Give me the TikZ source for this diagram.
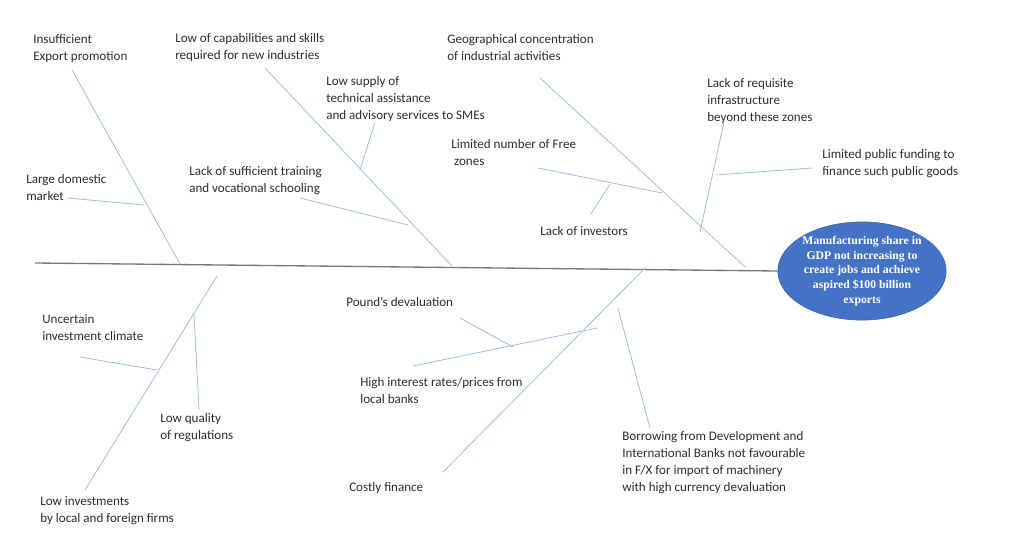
\documentclass[tikz,border=0pt]{standalone}
\usepackage{fontspec}
\setmainfont{Carlito}
\newfontfamily\headfont{Liberation Serif}
\usetikzlibrary{shapes.geometric}
\definecolor{bonecol}{RGB}{165,185,225}
\definecolor{spinecol}{RGB}{120,120,120}
\definecolor{headblue}{RGB}{68,114,196}
\definecolor{txtcol}{RGB}{45,45,45}
\tikzset{
  cause/.style={anchor=west, align=left, inner sep=0pt, text=txtcol,
    font=\fontsize{9.8}{12.75}\selectfont},
  bone/.style={draw=bonecol, line width=0.6pt},
  spine/.style={draw=spinecol, line width=1pt}
}
\begin{document}
\begin{tikzpicture}[x=0.75pt, y=-0.75pt]
        \useasboundingbox (0,0) rectangle (1024,560);

        % Head
        \node[ellipse, fill=headblue, draw=headblue!85!black, minimum width=124pt,
          minimum height=66pt, inner sep=0pt, text=white, align=center,
          font=\headfont\bfseries\fontsize{8.8}{11}\selectfont] (head) at (862,271)
          {Manufacturing share in\\GDP not increasing to\\create jobs and achieve\\aspired \$100 billion\\exports};
        \coordinate (tail) at (35,263);
        \draw[spine] (tail) -- (head.west);

        % Upper causes
        \node[cause] (export) at (33,49) {Insufficient\\Export promotion};
        \node[cause] (market) at (26,188) {Large domestic\\market};
        \node[cause] (skills) at (175,48) {Low of capabilities and skills\\required for new industries};
        \node[cause] (supply) at (326,99) {Low supply of\\technical assistance\\and advisory services to SMEs};
        \node[cause] (training) at (189,181) {Lack of sufficient training\\and vocational schooling};
        \node[cause] (geo) at (447,48) {Geographical concentration\\of industrial activities};
        \node[cause] (free) at (451,153) {Limited number of Free\\\ zones};
        \node[cause] (investors) at (540,231) {Lack of investors};
        \node[cause] (infra) at (707,101) {Lack of requisite\\infrastructure\\beyond these zones};
        \node[cause] (funding) at (822,164) {Limited public funding to\\finance such public goods};

        \coordinate (e1) at (72,70);   \coordinate (e2) at (180,264);
        \coordinate (m1) at (67,198);  \coordinate (m2) at (144,205);
        \coordinate (s1) at (265,68);  \coordinate (s2) at (452,266);
        \coordinate (t1) at (375,122); \coordinate (t2) at (360,170);
        \coordinate (v1) at (300,198); \coordinate (v2) at (408,225);
        \coordinate (g1) at (540,78);  \coordinate (g2) at (745,267);
        \coordinate (f1) at (538,168); \coordinate (f2) at (662,193);
        \coordinate (i1) at (610,184); \coordinate (i2) at (591,214);
        \coordinate (r1) at (724,122); \coordinate (r2) at (700,232);
        \coordinate (p1) at (812,168); \coordinate (p2) at (716,175);
        \foreach \a/\b in {e1/e2, m1/m2, s1/s2, t1/t2, v1/v2, g1/g2, f1/f2, i1/i2, r1/r2, p1/p2}
          \draw[bone] (\a) -- (\b);

        % Lower causes
        \node[cause] (climate) at (42,328) {Uncertain\\investment climate};
        \node[cause] (regul) at (160,428) {Low quality\\of regulations};
        \node[cause] (invest) at (40,511) {Low investments\\by local and foreign firms};
        \node[cause] (pound) at (346,302) {Pound's devaluation};
        \node[cause] (rates) at (360,391) {High interest rates/prices from\\local banks};
        \node[cause] (costly) at (349,488) {Costly finance};
        \node[cause] (borrow) at (622,463) {Borrowing from Development and\\International Banks not favourable\\in F/X for import of machinery\\with high currency devaluation};

        \coordinate (l1) at (217,276); \coordinate (l2) at (85,490);
        \coordinate (u1) at (80,357);  \coordinate (u2) at (157,370);
        \coordinate (q1) at (194,314); \coordinate (q2) at (199,410);
        \coordinate (c1) at (645,268); \coordinate (c2) at (443,472);
        \coordinate (h1) at (597,328); \coordinate (h2) at (413,366);
        \coordinate (d1) at (460,318); \coordinate (d2) at (513,347);
        \coordinate (b1) at (618,308); \coordinate (b2) at (650,428);
        \foreach \a/\b in {l1/l2, u1/u2, q1/q2, c1/c2, h1/h2, d1/d2, b1/b2}
          \draw[bone] (\a) -- (\b);
      \end{tikzpicture}
\end{document}
